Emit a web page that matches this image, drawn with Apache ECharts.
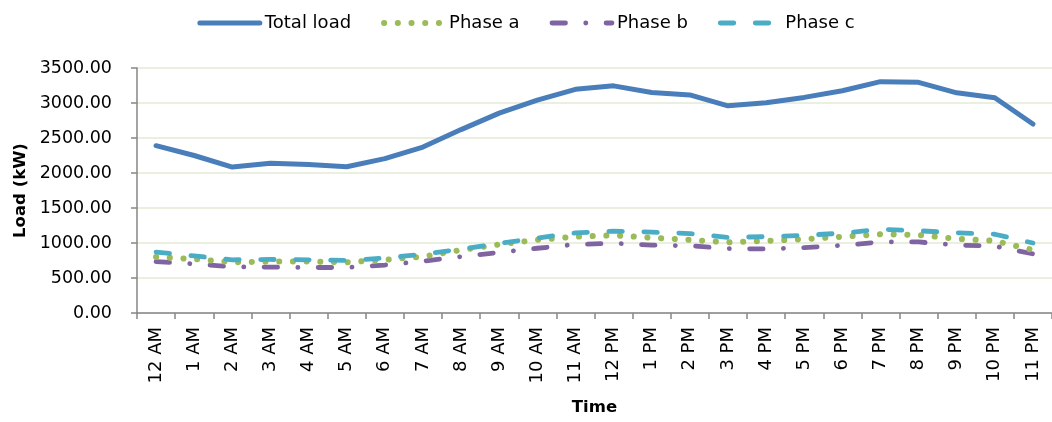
<!DOCTYPE html>
<html>
<head>
<meta charset="utf-8">
<script src="https://cdn.jsdelivr.net/npm/echarts@6/dist/echarts.min.js"></script>
<style>
html,body{margin:0;padding:0;background:#fff;}
#chart{width:1052px;height:422px;}
</style>
</head>
<body>
<div id="chart"></div>
<script>
const categories = ['12 AM','1 AM','2 AM','3 AM','4 AM','5 AM','6 AM','7 AM','8 AM','9 AM','10 AM','11 AM','12 PM','1 PM','2 PM','3 PM','4 PM','5 PM','6 PM','7 PM','8 PM','9 PM','10 PM','11 PM'];
const totalLoad = [2390, 2250, 2085, 2140, 2120, 2090, 2205, 2370, 2620, 2855, 3040, 3195, 3245, 3150, 3115, 2960, 3005, 3080, 3175, 3305, 3295, 3145, 3075, 2700];
const phaseA = [800, 770, 725, 735, 735, 725, 760, 805, 900, 980, 1045, 1090, 1110, 1075, 1045, 1010, 1030, 1055, 1090, 1125, 1115, 1060, 1030, 900];
const phaseB = [735, 700, 660, 655, 650, 650, 685, 740, 805, 865, 925, 980, 995, 970, 960, 920, 915, 935, 965, 1015, 1015, 970, 955, 845];
const phaseC = [870, 815, 760, 765, 760, 750, 785, 840, 910, 995, 1070, 1145, 1170, 1155, 1135, 1080, 1090, 1110, 1140, 1195, 1175, 1145, 1125, 1000];
const seriesNames = ['Total load', 'Phase a', 'Phase b', 'Phase c'];

const FONT = 'DejaVu Sans';
const colors = ['#4a7ebb', '#9bbb59', '#8064a2', '#4bacc6'];
const widths = [5, 6, 4.8, 4.8];
const dashes = ['solid', [0.1, 13.6], [13.5, 20.25, 0.1, 20.25], [13.5, 21.5]];

function lineStyleFor(i) {
  return {color: colors[i], width: widths[i], type: dashes[i], cap: 'round', join: 'round'};
}

const chart = echarts.init(document.getElementById('chart'), null, {renderer: 'canvas'});
chart.setOption({
  animation: false,
  backgroundColor: '#ffffff',
  legend: {
    top: 9,
    left: 'center',
    itemWidth: 60,
    itemHeight: 14,
    itemGap: 30,
    textStyle: {fontFamily: FONT, fontSize: 18, color: '#000'},
    itemStyle: {opacity: 0},
    data: seriesNames.map((n, i) => ({name: n, lineStyle: lineStyleFor(i), itemStyle: {opacity: 0}}))
  },
  grid: {left: 137, right: 0, top: 68, bottom: 109},
  xAxis: {
    type: 'category',
    data: categories,
    boundaryGap: true,
    name: 'Time',
    nameLocation: 'middle',
    nameGap: 86,
    nameTextStyle: {fontFamily: FONT, fontSize: 16.5, fontWeight: 'bold', color: '#000'},
    axisLine: {lineStyle: {color: '#868686', width: 1.5}},
    axisTick: {show: true, length: 6, lineStyle: {color: '#868686', width: 1.5}, alignWithLabel: false},
    axisLabel: {rotate: 90, margin: 14, fontFamily: FONT, fontSize: 18, color: '#000', interval: 0}
  },
  yAxis: {
    type: 'value',
    min: 0,
    max: 3500,
    interval: 500,
    name: 'Load (kW)',
    nameLocation: 'middle',
    nameRotate: 90,
    nameGap: 102,
    nameTextStyle: {fontFamily: FONT, fontSize: 16.5, fontWeight: 'bold', color: '#000'},
    axisLine: {show: true, lineStyle: {color: '#868686', width: 1.5}},
    axisTick: {show: true, length: 6, lineStyle: {color: '#868686', width: 1.5}},
    axisLabel: {margin: 25, fontFamily: FONT, fontSize: 17.5, color: '#000', formatter: v => v.toFixed(2)},
    splitLine: {show: true, lineStyle: {color: '#e4ead4', width: 1.5}}
  },
  series: [
    {name: seriesNames[0], type: 'line', data: totalLoad, symbol: 'none', z: 5,
     itemStyle: {color: colors[0]}, lineStyle: lineStyleFor(0)},
    {name: seriesNames[1], type: 'line', data: phaseA, symbol: 'none', z: 3,
     itemStyle: {color: colors[1]}, lineStyle: lineStyleFor(1)},
    {name: seriesNames[2], type: 'line', data: phaseB, symbol: 'none', z: 2,
     itemStyle: {color: colors[2]}, lineStyle: lineStyleFor(2)},
    {name: seriesNames[3], type: 'line', data: phaseC, symbol: 'none', z: 4,
     itemStyle: {color: colors[3]}, lineStyle: lineStyleFor(3)}
  ]
});
</script>
</body>
</html>
